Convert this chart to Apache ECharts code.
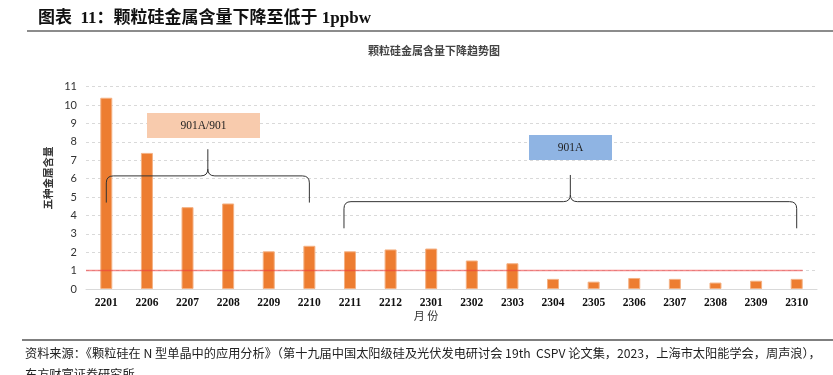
<!DOCTYPE html>
<html lang="zh">
<head>
<meta charset="UTF-8">
<title>颗粒硅金属含量下降趋势图</title>
<script src="https://cdn.jsdelivr.net/npm/echarts@6/dist/echarts.min.js"></script>
<style>
 html, body { margin: 0; padding: 0; background: #fff; }
 #main { width: 833px; height: 375px; }
</style>
</head>
<body>
<div id="main"></div>
<script type="text/javascript">
// 数据
var months = ['2201', '2206', '2207', '2208', '2209', '2210', '2211', '2212', '2301',
  '2302', '2303', '2304', '2305', '2306', '2307', '2308', '2309', '2310'];
var metalContent = [10.4, 7.4, 4.45, 4.65, 2.05, 2.35, 2.05, 2.15, 2.2,
  1.55, 1.4, 0.55, 0.4, 0.6, 0.55, 0.35, 0.45, 0.55];
var yMax = 11;
var limitValue = 1; // 1ppbw
// 分组括号: 起止月份
var groupNames = ['901A/901', '901A'];
var groupFrom = ['2201', '2211'];
var groupTo = ['2210', '2310'];

var serif = "'Liberation Serif', 'Noto Sans CJK SC', serif";
var cjk = "'Noto Sans CJK SC', 'Liberation Serif', sans-serif";

var myChart = echarts.init(document.getElementById('main'));

myChart.setOption({
  animation: false,
  backgroundColor: '#fff',
  grid: { left: 86, right: 16, top: 86.7, bottom: 86 },
  xAxis: {
    type: 'category',
    data: months,
    axisLine: { lineStyle: { color: '#d9d9d9', width: 1 } },
    axisTick: { show: false },
    axisLabel: { color: '#111', fontFamily: serif, fontWeight: 'bold', fontSize: 11.5, margin: 8 }
  },
  yAxis: {
    type: 'value',
    min: 0, max: yMax, interval: 1,
    axisLine: { show: false },
    axisTick: { show: false },
    axisLabel: { color: '#333', fontFamily: 'Lato, sans-serif', fontSize: 11, margin: 9 },
    splitLine: { lineStyle: { color: '#d9d9d9', type: [3, 3] } }
  },
  series: [{
    type: 'bar',
    data: metalContent,
    barWidth: 12,
    itemStyle: { color: '#ED7D31', borderColor: '#F4B183', borderWidth: 1 }
  }]
});

function px(cat, val) {
  return myChart.convertToPixel({ gridIndex: 0 }, [cat, val]);
}

var braceStroke = { stroke: '#333', lineWidth: 1, fill: null };

// 括号: 用直线和二次曲线拼成
function braceParts(x0, x1, yEnd, yBar, yTip) {
  var xm = (x0 + x1) / 2, r = 7;
  function ln(a, b, c, d) {
    return { type: 'line', z: 10, shape: { x1: a, y1: b, x2: c, y2: d }, style: braceStroke };
  }
  function q(a, b, cx, cy, c, d) {
    return { type: 'bezierCurve', z: 10,
      shape: { x1: a, y1: b, cpx1: cx, cpy1: cy, x2: c, y2: d }, style: braceStroke };
  }
  return [
    ln(x0, yEnd, x0, yBar + r),
    q(x0, yBar + r, x0, yBar, x0 + r, yBar),
    ln(x0 + r, yBar, xm - r, yBar),
    q(xm - r, yBar, xm, yBar, xm, yBar - r),
    ln(xm, yBar - r, xm, yTip),
    q(xm, yBar - r, xm, yBar, xm + r, yBar),
    ln(xm + r, yBar, x1 - r, yBar),
    q(x1 - r, yBar, x1, yBar, x1, yBar + r),
    ln(x1, yBar + r, x1, yEnd)
  ];
}

var braceLevels = [[4.7, 6.15, 7.6], [3.3, 4.75, 6.2]];
var boxes = [
  { x: 147, y: 113, w: 113, h: 25, fill: '#F8CBAD' },
  { x: 529, y: 135, w: 83, h: 25, fill: '#8FB4E3' }
];

var graphics = [
  { type: 'text', x: 38, y: 19,
    style: { text: '图表  11：颗粒硅金属含量下降至低于 1ppbw', font: 'bold 17px ' + serif, fill: '#111', verticalAlign: 'middle' } },
  { type: 'line', shape: { x1: 27, y1: 31, x2: 833, y2: 31 }, style: { stroke: '#8c8c8c', lineWidth: 2 } },
  { type: 'text', x: 434, y: 51,
    style: { text: '颗粒硅金属含量下降趋势图', font: 'bold 11px ' + cjk, fill: '#444', align: 'center', verticalAlign: 'middle' } },
  { type: 'text', x: 48, y: 178, rotation: Math.PI / 2,
    style: { text: '五种金属含量', font: 'bold 10.5px ' + cjk, fill: '#333', align: 'center', verticalAlign: 'middle' } },
  { type: 'text', x: 426, y: 316,
    style: { text: '月 份', font: '11px ' + cjk, fill: '#333', align: 'center', verticalAlign: 'middle' } },
  { type: 'line', shape: { x1: 22, y1: 340, x2: 833, y2: 340 }, style: { stroke: '#555', lineWidth: 1.5 } },
  { type: 'text', x: 25, y: 353,
    style: { text: '资料来源：《颗粒硅在 N 型单晶中的应用分析》（第十九届中国太阳级硅及光伏发电研讨会 19th  CSPV 论文集，2023，上海市太阳能学会，周声浪），',
      font: '12.2px ' + cjk, fill: '#222', verticalAlign: 'middle' } },
  { type: 'text', x: 25, y: 374,
    style: { text: '东方财富证券研究所', font: '12.2px ' + cjk, fill: '#222', verticalAlign: 'middle' } }
];

// 1ppbw 红线
var lineStart = px(months[0], limitValue);
var lineEnd = px(months[months.length - 1], limitValue);
graphics.push({ type: 'line', z: 10,
  shape: { x1: 86, y1: lineStart[1], x2: lineEnd[0] + 6, y2: lineEnd[1] },
  style: { stroke: 'rgba(240,60,60,0.6)', lineWidth: 1.5 } });

groupNames.forEach(function (name, i) {
  var a = px(groupFrom[i], braceLevels[i][0]);
  var b = px(groupTo[i], braceLevels[i][0]);
  var yBar = px(groupFrom[i], braceLevels[i][1])[1];
  var yTip = px(groupFrom[i], braceLevels[i][2])[1];
  graphics = graphics.concat(braceParts(a[0] - (i === 1 ? 6 : 0), b[0], a[1], yBar, yTip));
  var bx = boxes[i];
  graphics.push({ type: 'rect', z: 10,
    shape: { x: bx.x, y: bx.y, width: bx.w, height: bx.h },
    style: { fill: bx.fill } });
  graphics.push({ type: 'text', z: 11, x: bx.x + bx.w / 2, y: bx.y + bx.h / 2,
    style: { text: name, font: '11.5px ' + serif, fill: '#222', align: 'center', verticalAlign: 'middle' } });
});

myChart.setOption({ graphic: graphics });
</script>
</body>
</html>
